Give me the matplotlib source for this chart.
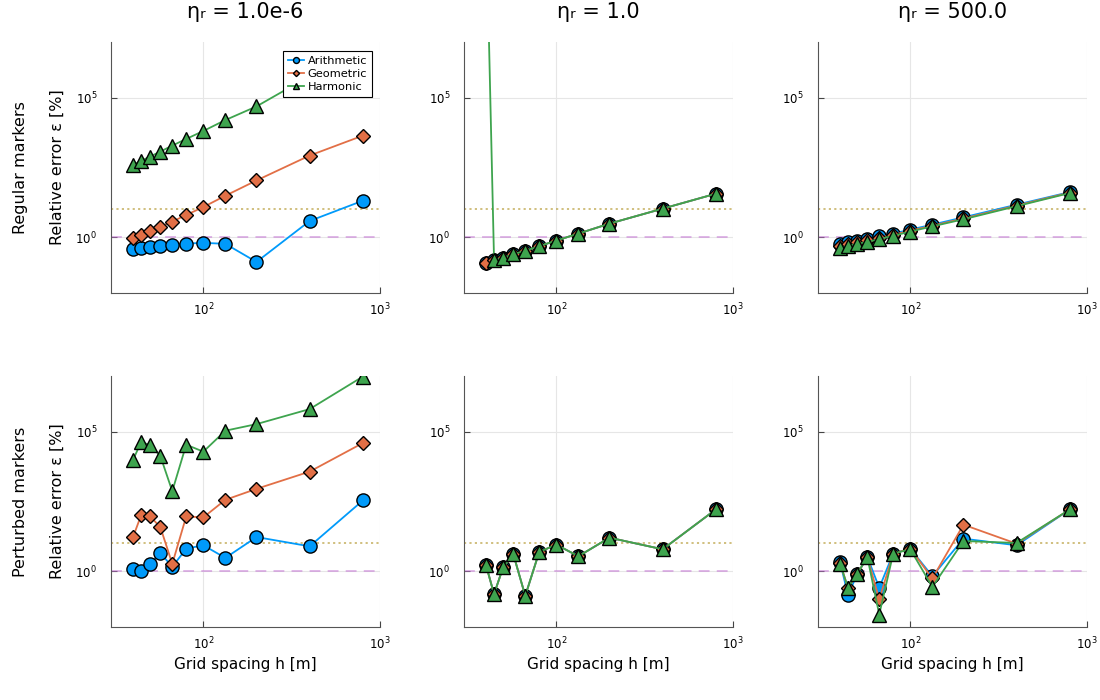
import matplotlib.pyplot as plt
import numpy as np

# grid spacing h [m] (800 / n)
h = [40.0, 44.4, 50.0, 57.1, 66.7, 80.0, 100.0, 133.3, 200.0, 400.0, 800.0]

titles = ["ηᵣ = 1.0e-6", "ηᵣ = 1.0", "ηᵣ = 500.0"]
row_names = ["Regular markers", "Perturbed markers"]
series_names = ["Arithmetic", "Geometric", "Harmonic"]

# regular markers
reg_low_arith = [0.38, 0.42, 0.45, 0.48, 0.53, 0.59, 0.63, 0.58, 0.13, 3.83, 20.4]
reg_low_geom = [0.95, 1.24, 1.64, 2.34, 3.63, 6.28, 12.1, 30.8, 108.6, 849, 4395]
reg_low_harm = [394, 547, 782, 1178, 1930, 3340, 6450, 15900, 49000, 6.0e5, 1.2e6]

reg_mid_arith = [0.121, 0.151, 0.183, 0.247, 0.325, 0.478, 0.76, 1.35, 3.08, 10.6, 36.3]
reg_mid_geom = [0.121, 0.151, 0.183, 0.247, 0.325, 0.478, 0.76, 1.35, 3.08, 10.6, 36.3]
reg_mid_harm = [4.0e11, 0.151, 0.183, 0.247, 0.325, 0.478, 0.76, 1.35, 3.08, 10.6, 36.3]

reg_high_arith = [0.58, 0.66, 0.74, 0.87, 1.09, 1.35, 1.88, 2.83, 5.18, 14.7, 41.6]
reg_high_geom = [0.50, 0.57, 0.65, 0.77, 0.96, 1.22, 1.72, 2.60, 4.70, 13.7, 40.0]
reg_high_harm = [0.42, 0.49, 0.57, 0.68, 0.86, 1.12, 1.60, 2.45, 4.40, 13.0, 38.3]

# perturbed markers
per_low_arith = [1.24, 1.0, 1.78, 4.52, 1.43, 6.45, 8.5, 3.0, 16.8, 7.8, 343]
per_low_geom = [16.8, 100, 92, 38, 1.83, 92, 85, 363, 896, 3725, 39400]
per_low_harm = [9700, 42800, 33400, 13500, 740, 34400, 19300, 1.09e5, 1.88e5, 6.5e5, 9.5e6]

per_mid_arith = [1.64, 0.151, 1.39, 4.05, 0.131, 4.9, 8.96, 3.43, 15.9, 6.1, 164]
per_mid_geom = [1.64, 0.151, 1.39, 4.05, 0.131, 4.9, 8.96, 3.43, 15.9, 6.1, 164]
per_mid_harm = [1.64, 0.151, 1.39, 4.05, 0.131, 4.9, 8.96, 3.43, 15.9, 6.1, 164]

per_high_arith = [2.15, 0.139, 0.78, 3.25, 0.254, 4.28, 6.46, 0.66, 14.7, 8.5, 164]
per_high_geom = [2.04, 0.24, 0.78, 3.25, 0.097, 4.28, 6.46, 0.55, 46.5, 9.7, 164]
per_high_harm = [1.88, 0.26, 0.78, 3.25, 0.028, 4.28, 6.1, 0.275, 12.1, 10.3, 164]

data = [
    [[reg_low_arith, reg_low_geom, reg_low_harm],
     [reg_mid_arith, reg_mid_geom, reg_mid_harm],
     [reg_high_arith, reg_high_geom, reg_high_harm]],
    [[per_low_arith, per_low_geom, per_low_harm],
     [per_mid_arith, per_mid_geom, per_mid_harm],
     [per_high_arith, per_high_geom, per_high_harm]],
]

colors = ["#009AFA", "#E26F46", "#3EA44E"]
markers = ["o", "D", "^"]
msizes = [9.5, 7, 9.5]

fig = plt.figure(figsize=(11, 7), dpi=100)
lefts = [0.1009, 0.4218, 0.7436]
bottoms = [0.5814, 0.1043]
w, hgt = 0.2445, 0.3586

for r in range(2):
    for c in range(3):
        ax = fig.add_axes([lefts[c], bottoms[r], w, hgt])
        ax.set_xscale("log")
        ax.set_yscale("log")
        ax.axhline(1.0, color="#C271D2", alpha=0.55, linestyle=(0, (6, 4)), linewidth=1.3, zorder=1)
        ax.axhline(10.0, color="#AC8D18", alpha=0.6, linestyle=(0, (1.2, 1.8)), linewidth=1.3, zorder=1)
        for k in range(3):
            ax.plot(h, data[r][c][k], color=colors[k], linewidth=1.3,
                    marker=markers[k], markersize=msizes[k],
                    markeredgecolor="black", markeredgewidth=1.0,
                    label=series_names[k], zorder=3 + k)
        ax.set_xlim(30, 1000)
        ax.set_ylim(1e-2, 1e7)
        ax.set_xticks([100, 1000])
        ax.set_yticks([1, 1e5])
        ax.minorticks_off()
        ax.tick_params(direction="in", length=4, labelsize=8.5, color="#444444")
        ax.tick_params(axis="y", pad=10)
        ax.tick_params(axis="x", pad=6)
        ax.grid(True, color="#e6e6e6", linewidth=0.8, zorder=0)
        ax.set_axisbelow(True)
        for s in ["top", "right"]:
            ax.spines[s].set_visible(False)
        for s in ["left", "bottom"]:
            ax.spines[s].set_color("#555555")
        if r == 0:
            ax.set_title(titles[c], fontsize=15, pad=17)
        if r == 1:
            ax.set_xlabel("Grid spacing h [m]", fontsize=11)
        if r == 0 and c == 0:
            leg = ax.legend(loc="upper right", fontsize=8.2, markerscale=0.45,
                            handlelength=1.4, handletextpad=0.3, borderpad=0.45,
                            labelspacing=0.25, fancybox=False, framealpha=1.0,
                            edgecolor="black", borderaxespad=0,
                            bbox_to_anchor=(0.972, 0.964))
            leg.get_frame().set_linewidth(0.8)
            leg.set_zorder(10)

    yc = bottoms[r] + hgt / 2
    fig.text(57 / 1100, yc, "Relative error ε [%]", rotation=90, fontsize=11.5,
             ha="center", va="center")
    fig.text(21 / 1100, yc, row_names[r], rotation=90, fontsize=11.5,
             ha="center", va="center")

fig.savefig("out.png", dpi=100)
